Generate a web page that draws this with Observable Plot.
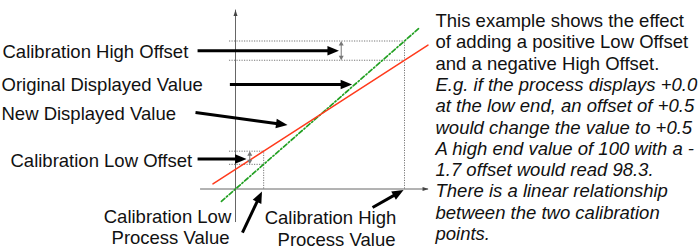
<!DOCTYPE html>
<html><head><meta charset="utf-8">
<script src="https://cdn.jsdelivr.net/npm/d3@7"></script>
<script src="https://cdn.jsdelivr.net/npm/@observablehq/plot@0.6"></script>
<style>body{margin:0;background:#fff}</style>
</head><body><div id="chart"></div>
<script>
// ---- Calibration data (process value -> displayed value, arbitrary units) ----
const calibrationPoints = ["Low", "High"];
const processValues = [15, 90];          // calibration low / high process value
const originalDisplayed = [15, 90];      // displayed value before offsets
const calibrationOffsets = [8, -11.7];   // low offset (positive), high offset (negative)
const newDisplayed = [23, 78.3];         // displayed value after offsets

// Drawn extent of the two transfer lines
const originalLineX = [-7.5, 97.5];
const originalLineY = [-7.5, 97.5];
const newLineX = [-12, 102.5];
const newLineY = [3.1, 87.5];

// Axis extents
const axisXExtent = [-18.6, 102.8];
const axisYExtent = [-20.4, 108.8];

// Guide lines start slightly left of the vertical axis
const guideStart = -3.2;

// Pointer arrows (tail -> tip)
const pointerArrows = [
  {name: "high offset", x1: -20.2, y1: 84.1, x2: 55.1, y2: 84.1},
  {name: "original",    x1: -3.0,  y1: 63.5, x2: 62.1, y2: 63.5},
  {name: "new",         x1: -21.3, y1: 46.5, x2: 27.7, y2: 38.9},
  {name: "low offset",  x1: -20.2, y1: 18.2, x2: 5.9,  y2: 18.2},
  {name: "low process", x1: 3.7,   y1: -26.5, x2: 14.1, y2: -1.5},
  {name: "high process",x1: 73.0,  y1: -11.25, x2: 89.5, y2: -0.6}
];
// Offset markers (double-headed) x positions
const offsetMarkerX = [7.6, 56.3];

// ---- Text ----
const leftLabels = ["Calibration High Offset", "Original Displayed Value", "New Displayed Value", "Calibration Low Offset"];
const leftLabelX = [2, 1, 1, 10];
const leftLabelBaseline = [57.3, 90, 119.3, 166.7];

const bottomLabels = ["Calibration Low", "Process Value", "Calibration High", "Process Value"];
const bottomLabelX = [167, 170, 330, 336];
const bottomLabelBaseline = [222, 243, 223.5, 245];

const paragraphPlain = [
  "This example shows the effect",
  "of adding a positive Low Offset",
  "and a negative High Offset."
];
const paragraphItalic = [
  "E.g. if the process displays +0.0",
  "at the low end, an offset of +0.5",
  "would change the value to +0.5",
  "A high end value of 100 with a -",
  "1.7 offset would read 98.3.",
  "There is a linear relationship",
  "between the two calibration",
  "points."
];
const paragraphX = 435, paragraphTop = 26.5, paragraphLead = 21.3;

// ---- Scales ----
const xScale = {domain: [0, 90], range: [235, 404]};
const yScale = {domain: [0, 90], range: [188.5, 40.5]};
const sx = Plot.scale({x: xScale});
const sy = Plot.scale({y: yScale});
const angle = (x1, y1, x2, y2) =>
  Math.atan2(sy.apply(y2) - sy.apply(y1), sx.apply(x2) - sx.apply(x1)) * 180 / Math.PI + 90;

// arrowhead symbol with its tip at the origin, pointing up
const head = (L, W) => ({draw(ctx) { ctx.moveTo(0, 0); ctx.lineTo(-W / 2, L); ctx.lineTo(W / 2, L); ctx.closePath(); }});

const FONT = "'Liberation Sans', Arial, Helvetica, sans-serif";
const FS = 18.5;

const textMark = (t, x, base, opts = {}) => Plot.text([t], {
  text: d => d, frameAnchor: "top-left", dx: x, dy: base, lineAnchor: "bottom",
  textAnchor: "start", fontSize: FS, fill: "#111", ...opts
});

// offset marker segments
const offsetMarkers = calibrationPoints.map((c, i) => ({
  x: offsetMarkerX[i],
  lo: Math.min(originalDisplayed[i], newDisplayed[i]),
  hi: Math.max(originalDisplayed[i], newDisplayed[i])
}));
const offsetHeads = offsetMarkers.flatMap(m => [
  {x: m.x, y: m.hi, rot: 0},
  {x: m.x, y: m.lo, rot: 180}
]);

const marks = [
  // dotted guides
  Plot.ruleY([originalDisplayed[1], newDisplayed[1]], {x1: guideStart, x2: processValues[1], stroke: "#777", strokeDasharray: "1.2,1.3"}),
  Plot.ruleX([processValues[1]], {y1: 0, y2: originalDisplayed[1], stroke: "#777", strokeDasharray: "1.2,1.3"}),
  Plot.ruleY([newDisplayed[0], originalDisplayed[0]], {x1: guideStart, x2: processValues[0], stroke: "#777", strokeDasharray: "1.2,1.3"}),
  Plot.ruleX([processValues[0]], {y1: 0, y2: newDisplayed[0], stroke: "#777", strokeDasharray: "1.2,1.3"}),
  // axes
  Plot.ruleY([0], {x1: axisXExtent[0], x2: axisXExtent[1], stroke: "#666", strokeWidth: 1}),
  Plot.ruleX([0], {y1: axisYExtent[0], y2: axisYExtent[1], stroke: "#666", strokeWidth: 1}),
  Plot.dot([{x: axisXExtent[1], y: 0, r: 90}, {x: 0, y: axisYExtent[1], r: 0}], {x: "x", y: "y", rotate: "r", r: 3, symbol: head(6, 4), fill: "#444", stroke: "none"}),
  // transfer lines
  Plot.line(originalLineX, {x: originalLineX, y: originalLineY, stroke: "#22a022", strokeWidth: 1.7, strokeDasharray: "4.5,2.2,1.4,2.2"}),
  Plot.line(newLineX, {x: newLineX, y: newLineY, stroke: "#ff3a1c", strokeWidth: 1.5}),
  // offset markers (double headed, gray)
  Plot.arrow(offsetMarkers, {x1: "x", x2: "x", y1: "lo", y2: "hi", headLength: 0, inset: 3, stroke: "#777", strokeWidth: 1}),
  Plot.dot(offsetHeads, {x: "x", y: "y", rotate: "rot", r: 3, symbol: head(4.5, 5), fill: "#777", stroke: "none"}),
  // pointer arrows
  Plot.arrow(pointerArrows, {x1: "x1", y1: "y1", x2: "x2", y2: "y2", headLength: 0, insetEnd: 8, stroke: "#000", strokeWidth: 3, strokeLinecap: "butt"}),
  Plot.dot(pointerArrows, {x: "x2", y: "y2", rotate: d => angle(d.x1, d.y1, d.x2, d.y2), r: 3, symbol: head(11.5, 9.5), fill: "#000", stroke: "none"}),
  // labels
  ...leftLabels.map((t, i) => textMark(t, leftLabelX[i], leftLabelBaseline[i])),
  ...bottomLabels.map((t, i) => textMark(t, bottomLabelX[i], bottomLabelBaseline[i], {textAnchor: "middle"})),
  ...paragraphPlain.map((t, i) => textMark(t, paragraphX, paragraphTop + paragraphLead * i)),
  ...paragraphItalic.map((t, i) => textMark(t, paragraphX, paragraphTop + paragraphLead * (i + paragraphPlain.length), {fontStyle: "italic"}))
];

const chart = Plot.plot({
  width: 699, height: 248,
  marginTop: 0, marginRight: 0, marginBottom: 0, marginLeft: 0,
  x: {...xScale, axis: null},
  y: {...yScale, axis: null},
  style: {fontFamily: FONT, fontSize: FS + "px", background: "#fff", color: "#111", overflow: "visible"},
  marks
});
document.getElementById("chart").appendChild(chart);
</script>
</body></html>
